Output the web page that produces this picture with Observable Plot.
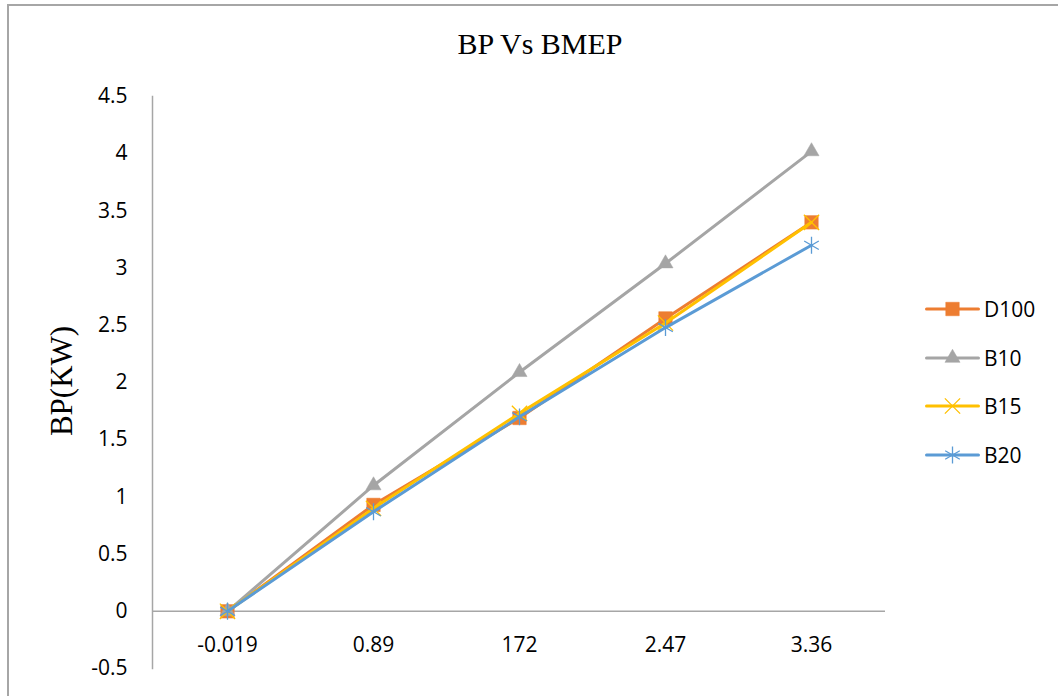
<!DOCTYPE html>
<html>
<head>
<meta charset="utf-8">
<script src="https://cdn.jsdelivr.net/npm/d3@7"></script>
<script src="https://cdn.jsdelivr.net/npm/@observablehq/plot@0.6"></script>
<style>
  html, body { margin: 0; padding: 0; background: #fff; overflow: hidden; }
  #chart { position: relative; width: 1058px; height: 696px; overflow: hidden; font-family: "Open Sans", sans-serif; }
  #border { position: absolute; left: 7px; top: 4px; width: 1100px; height: 760px; border-left: 2px solid #a6a6a6; border-top: 2px solid #a6a6a6; box-sizing: border-box; }
  #title { position: absolute; left: 0; width: 1080px; top: 24px; text-align: center; font-family: "Liberation Serif", "Times New Roman", serif; font-size: 30px; line-height: 40px; color: #000; }
  #ylabel { position: absolute; left: 62px; top: 381px; transform: translate(-50%, -50%) rotate(-90deg); font-family: "Liberation Serif", "Times New Roman", serif; font-size: 31px; white-space: nowrap; color: #000; }
  #legend { position: absolute; left: 925px; top: 285px; }
  .item { display: flex; align-items: center; height: 48.5px; font-size: 21px; color: #000; }
  .item svg { margin-right: 4px; }
  svg.plot { position: absolute; left: 0; top: 0; }
</style>
</head>
<body>
<div id="chart">
  <div id="border"></div>
  <div id="title">BP Vs BMEP</div>
  <div id="ylabel">BP(KW)</div>
  <div id="legend"></div>
</div>
<script>
// BMEP categories along the x axis (labels as printed)
const categories = ["-0.019", "0.89", "172", "2.47", "3.36"];

// Brake power (kW) for each fuel blend
const seriesNames = ["D100", "B10", "B15", "B20"];
const d100 = [0, 0.93, 1.69, 2.56, 3.4];
const b10 = [0, 1.1, 2.09, 3.04, 4.02];
const b15 = [0, 0.9, 1.73, 2.52, 3.4];
const b20 = [0, 0.87, 1.7, 2.48, 3.2];

const yTicks = [-0.5, 0, 0.5, 1, 1.5, 2, 2.5, 3, 3.5, 4, 4.5];

const seriesColors = ["#ed7d31", "#a5a5a5", "#ffc000", "#5b9bd5"];
const seriesSymbols = ["square", "triangle", "times", "asterisk"];
const symbolRadius = [7.6, 5.6, 7, 8];
const filledSymbols = new Set(["square", "triangle"]);

const values = [d100, b10, b15, b20];
const rows = seriesNames.flatMap((name, i) =>
  categories.map((c, j) => ({series: name, bmep: c, bp: values[i][j]}))
);

const axisGray = "#a6a6a6";

// one line + marker layer per series, drawn in legend order
const seriesMarks = seriesNames.flatMap((name, i) => {
  const data = rows.filter(r => r.series === name);
  const sym = seriesSymbols[i];
  const filled = filledSymbols.has(sym);
  return [
    Plot.line(data, {x: "bmep", y: "bp", stroke: seriesColors[i], strokeWidth: 3, strokeLinejoin: "round", strokeLinecap: "round"}),
    Plot.dot(data, {
      x: "bmep", y: "bp", symbol: () => sym, r: symbolRadius[i],
      fill: filled ? seriesColors[i] : "none",
      stroke: seriesColors[i],
      strokeWidth: filled ? 0.5 : 1.3
    })
  ];
});

const chart = Plot.plot({
  width: 1058,
  height: 696,
  marginLeft: 152,
  marginRight: 173,
  marginTop: 96,
  marginBottom: 28,
  style: {fontFamily: "'Open Sans', sans-serif", fontSize: "21px", color: "#000", background: "transparent"},
  x: {type: "point", domain: categories, padding: 0.5},
  y: {domain: [-0.5, 4.5]},
  symbol: {domain: seriesSymbols, range: seriesSymbols},
  marks: [
    Plot.frame({anchor: "left", stroke: axisGray, strokeWidth: 1.5}),
    Plot.ruleY([0], {stroke: axisGray, strokeWidth: 1.5}),
    Plot.axisY({ticks: yTicks, tickSize: 0, tickPadding: 25, label: null, tickFormat: d => String(d), fontSize: 21}),
    Plot.axisX({tickSize: 0, tickPadding: -23, lineAnchor: "middle", label: null, fontSize: 21}),
    ...seriesMarks
  ]
});
document.getElementById("chart").appendChild(chart);

// legend: short line with the series marker, followed by the name
const legend = d3.select("#legend");
seriesNames.forEach((name, i) => {
  const item = legend.append("div").attr("class", "item");
  const svg = item.append("svg").attr("width", 55).attr("height", 24);
  svg.append("line").attr("x1", 1.5).attr("x2", 53.5).attr("y1", 12).attr("y2", 12)
    .attr("stroke", seriesColors[i]).attr("stroke-width", 3).attr("stroke-linecap", "round");
  const sym = seriesSymbols[i];
  const filled = filledSymbols.has(sym);
  const shape = {square: d3.symbolSquare, triangle: d3.symbolTriangle, times: d3.symbolTimes, asterisk: d3.symbolAsterisk}[sym];
  const r = symbolRadius[i];
  svg.append("path").attr("transform", "translate(27.5,12)")
    .attr("d", d3.symbol(shape, Math.PI * r * r)())
    .attr("fill", filled ? seriesColors[i] : "none")
    .attr("stroke", seriesColors[i])
    .attr("stroke-width", filled ? 0.5 : 1.3);
  item.append("span").text(name);
});
</script>
</body>
</html>
